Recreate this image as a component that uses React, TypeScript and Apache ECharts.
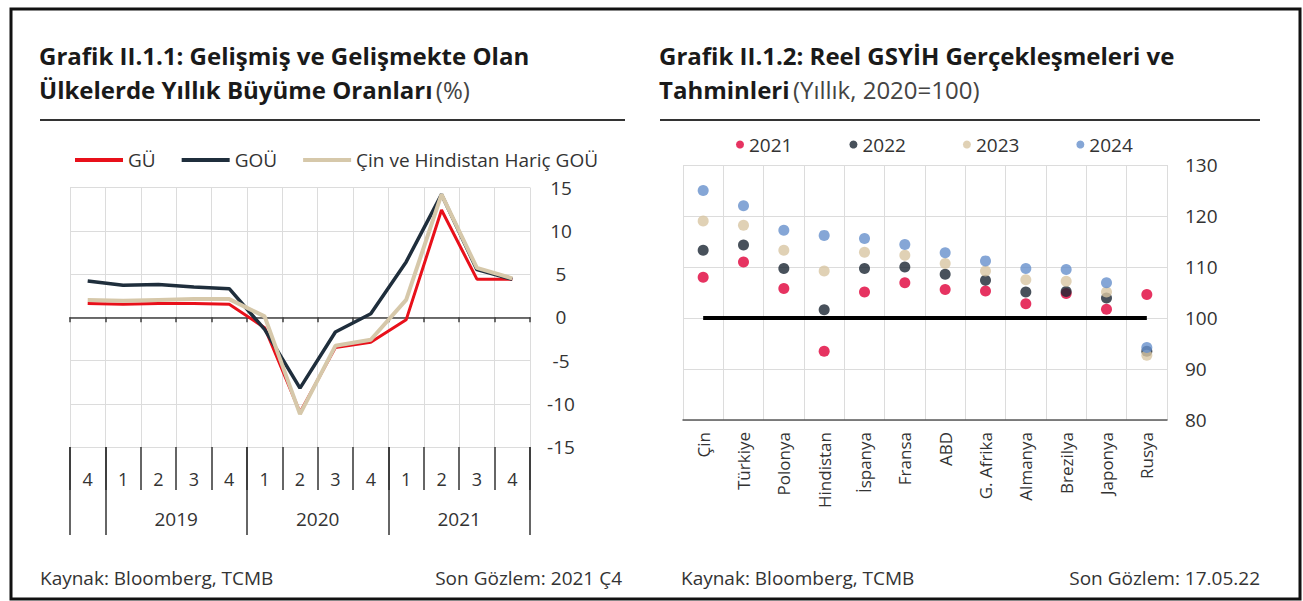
import React, { useEffect, useRef } from "react";
import * as echarts from "echarts";

// ---------- Left chart data (Grafik II.1.1) ----------
const quarterLabels = ["4", "1", "2", "3", "4", "1", "2", "3", "4", "1", "2", "3", "4"];
const quarterYears = ["2018", "2019", "2019", "2019", "2019", "2020", "2020", "2020", "2020", "2021", "2021", "2021", "2021"];
const yearLabels = ["2019", "2020", "2021"];
const guValues = [1.6, 1.5, 1.6, 1.6, 1.5, -1.2, -11.0, -3.5, -2.9, -0.3, 12.4, 4.4, 4.4];
const gouValues = [4.2, 3.7, 3.8, 3.5, 3.3, -1.4, -8.2, -1.7, 0.4, 6.4, 14.2, 5.5, 4.4];
const gouExValues = [2.0, 1.9, 2.0, 2.1, 2.1, 0.1, -11.2, -3.3, -2.6, 2.0, 14.2, 5.7, 4.5];
const leftSeriesNames = ["GÜ", "GOÜ", "Çin ve Hindistan Hariç GOÜ"];

// ---------- Right chart data (Grafik II.1.2) ----------
const countries = ["Çin", "Türkiye", "Polonya", "Hindistan", "İspanya", "Fransa", "ABD", "G. Afrika", "Almanya", "Brezilya", "Japonya", "Rusya"];
const gdp2021 = [108.0, 111.0, 105.8, 93.5, 105.1, 106.9, 105.6, 105.3, 102.8, 104.8, 101.7, 104.6];
const gdp2022 = [113.3, 114.3, 109.7, 101.6, 109.7, 110.0, 108.6, 107.4, 105.1, 105.2, 103.9, 93.5];
const gdp2023 = [119.0, 118.2, 113.3, 109.2, 112.9, 112.3, 110.7, 109.2, 107.5, 107.2, 105.1, 92.7];
const gdp2024 = [125.0, 122.0, 117.2, 116.2, 115.6, 114.4, 112.8, 111.2, 109.7, 109.5, 106.9, 94.2];
const yearSeriesNames = ["2021", "2022", "2023", "2024"];
const baseLevel = 100;

const FONT = "'Open Sans', 'Noto Sans', sans-serif";
const TXT = "#333333";

export default function App() {
  const ref = useRef<HTMLDivElement>(null);

  useEffect(() => {
    if (!ref.current) return;
    const chart = echarts.init(ref.current, undefined, { renderer: "svg" });

    // year boundaries and centres from the quarter/year arrays
    const boundaries: number[] = [0];
    for (let i = 1; i < quarterYears.length; i++) {
      if (quarterYears[i] !== quarterYears[i - 1]) boundaries.push(i);
    }
    boundaries.push(quarterYears.length);
    const yearCenters: Record<number, string> = {};
    yearLabels.forEach((y) => {
      const first = quarterYears.indexOf(y);
      const last = quarterYears.lastIndexOf(y);
      yearCenters[(first + last + 1) / 2] = y;
    });

    const gridColor = "#dcdcdc";
    const titleSize = 24;
    const smallFont = `19px ${FONT}`;

    const option: any = {
      animation: false,
      textStyle: { fontFamily: FONT },
      graphic: [
        {
          type: "rect",
          shape: { x: 11, y: 9, width: 1289, height: 590 },
          style: { fill: "none", stroke: "#111", lineWidth: 3 },
          silent: true,
        },
        {
          type: "text",
          x: 39,
          y: 55,
          style: {
            text: "Grafik II.1.1: Gelişmiş ve Gelişmekte Olan",
            font: `bold ${titleSize}px ${FONT}`,
            fill: "#1a1a1a",
            verticalAlign: "middle",
          },
        },
        {
          type: "text",
          x: 39,
          y: 89,
          style: {
            text: "{b|Ülkelerde Yıllık Büyüme Oranları} {n|(%)}",
            verticalAlign: "middle",
            rich: {
              b: { fontFamily: FONT, fontWeight: "bold", fontSize: titleSize, fill: "#1a1a1a" },
              n: { fontFamily: FONT, fontSize: titleSize, fill: "#444" },
            },
          },
        },
        {
          type: "text",
          x: 659,
          y: 55,
          style: {
            text: "Grafik II.1.2: Reel GSYİH Gerçekleşmeleri ve",
            font: `bold ${titleSize}px ${FONT}`,
            fill: "#1a1a1a",
            verticalAlign: "middle",
          },
        },
        {
          type: "text",
          x: 659,
          y: 89,
          style: {
            text: "{b|Tahminleri} {n|(Yıllık, 2020=100)}",
            verticalAlign: "middle",
            rich: {
              b: { fontFamily: FONT, fontWeight: "bold", fontSize: titleSize, fill: "#1a1a1a" },
              n: { fontFamily: FONT, fontSize: titleSize, fill: "#444" },
            },
          },
        },
        {
          type: "line",
          shape: { x1: 40, y1: 120, x2: 625, y2: 120 },
          style: { stroke: "#333", lineWidth: 2 },
        },
        {
          type: "line",
          shape: { x1: 660, y1: 120, x2: 1260, y2: 120 },
          style: { stroke: "#333", lineWidth: 2 },
        },
        {
          type: "text",
          x: 40,
          y: 578,
          style: { text: "Kaynak: Bloomberg, TCMB", font: smallFont, fill: TXT, verticalAlign: "middle" },
        },
        {
          type: "text",
          x: 622,
          y: 578,
          style: { text: "Son Gözlem: 2021 Ç4", font: smallFont, fill: TXT, verticalAlign: "middle", align: "right" },
        },
        {
          type: "text",
          x: 681,
          y: 578,
          style: { text: "Kaynak: Bloomberg, TCMB", font: smallFont, fill: TXT, verticalAlign: "middle" },
        },
        {
          type: "text",
          x: 1260,
          y: 578,
          style: { text: "Son Gözlem: 17.05.22", font: smallFont, fill: TXT, verticalAlign: "middle", align: "right" },
        },
      ],
      legend: [
        {
          data: leftSeriesNames,
          left: 70,
          top: 145,
          icon: "rect",
          itemWidth: 48,
          itemHeight: 4,
          itemGap: 26,
          textStyle: { fontSize: 19, color: TXT, fontFamily: FONT, lineHeight: 20 },
        },
        {
          data: yearSeriesNames,
          left: 731,
          top: 130,
          icon: "circle",
          itemWidth: 8,
          itemHeight: 8,
          itemGap: 57,
          textStyle: { fontSize: 19, color: TXT, fontFamily: FONT },
        },
      ],
      grid: [
        { left: 70, right: 773, top: 187.5, bottom: 154, containLabel: false },
        { left: 683, right: 136, top: 165, bottom: 181, containLabel: false },
      ],
      xAxis: [
        {
          type: "category",
          gridIndex: 0,
          data: quarterLabels,
          axisLine: { show: true, onZero: true, lineStyle: { color: "#404040", width: 1.5 } },
          axisTick: { show: true, length: 5, interval: 0, lineStyle: { color: "#404040", width: 1.5 } },
          axisLabel: { show: false },
          splitLine: { show: true, interval: 0, lineStyle: { color: gridColor, width: 1 } },
        },
        {
          type: "category",
          gridIndex: 0,
          position: "bottom",
          data: quarterLabels,
          axisLine: { show: false, onZero: false },
          axisTick: { show: true, length: 43, interval: 0, lineStyle: { color: "#333", width: 1.5 } },
          axisLabel: { show: true, interval: 0, margin: 23, fontSize: 18, color: TXT, fontFamily: FONT },
          splitLine: { show: false },
        },
        {
          type: "value",
          gridIndex: 0,
          position: "bottom",
          min: 0,
          max: quarterLabels.length,
          axisLine: { show: false, onZero: false },
          axisTick: { show: true, length: 88, customValues: boundaries, lineStyle: { color: "#333", width: 1.5 } },
          axisLabel: {
            show: true,
            customValues: Object.keys(yearCenters).map(Number),
            formatter: (v: number) => yearCenters[v] || "",
            margin: 62,
            fontSize: 19,
            color: TXT,
            fontFamily: FONT,
          },
          splitLine: { show: false },
        },
        {
          type: "category",
          gridIndex: 1,
          data: countries,
          axisLine: { show: true, onZero: false, lineStyle: { color: "#595959", width: 1.5 } },
          axisTick: { show: false },
          axisLabel: { interval: 0, rotate: 90, margin: 12, fontSize: 17, color: TXT, fontFamily: FONT },
          splitLine: { show: true, interval: 0, lineStyle: { color: gridColor, width: 1 } },
        },
      ],
      yAxis: [
        {
          type: "value",
          gridIndex: 0,
          position: "right",
          min: -15,
          max: 15,
          interval: 5,
          axisLine: { show: false },
          axisTick: { show: false },
          axisLabel: { fontSize: 19, color: TXT, margin: 31, align: "center", fontFamily: FONT },
          splitLine: { show: true, lineStyle: { color: gridColor, width: 1 } },
        },
        {
          type: "value",
          gridIndex: 1,
          position: "right",
          min: 80,
          max: 130,
          interval: 10,
          axisLine: { show: false },
          axisTick: { show: false },
          axisLabel: { fontSize: 19, color: TXT, margin: 18, fontFamily: FONT },
          splitLine: { show: true, lineStyle: { color: gridColor, width: 1 } },
        },
      ],
      series: [
        {
          name: leftSeriesNames[0],
          type: "line",
          xAxisIndex: 0,
          yAxisIndex: 0,
          data: guValues,
          showSymbol: false,
          symbol: "none",
          color: "#e8101a",
          lineStyle: { width: 3, color: "#e8101a" },
          z: 3,
        },
        {
          name: leftSeriesNames[1],
          type: "line",
          xAxisIndex: 0,
          yAxisIndex: 0,
          data: gouValues,
          showSymbol: false,
          symbol: "none",
          color: "#1f2e3c",
          lineStyle: { width: 3.5, color: "#1f2e3c" },
          z: 3,
        },
        {
          name: leftSeriesNames[2],
          type: "line",
          xAxisIndex: 0,
          yAxisIndex: 0,
          data: gouExValues,
          showSymbol: false,
          symbol: "none",
          color: "#d6c8aa",
          lineStyle: { width: 4, color: "#d6c8aa" },
          z: 3,
        },
        {
          name: "base",
          type: "line",
          xAxisIndex: 3,
          yAxisIndex: 1,
          data: countries.map(() => baseLevel),
          showSymbol: false,
          symbol: "none",
          color: "#000",
          lineStyle: { width: 4, color: "#000" },
          silent: true,
          z: 1,
        },
        {
          name: yearSeriesNames[0],
          type: "scatter",
          xAxisIndex: 3,
          yAxisIndex: 1,
          data: gdp2021,
          symbolSize: 11,
          color: "#e0003a",
          z: 3,
        },
        {
          name: yearSeriesNames[1],
          type: "scatter",
          xAxisIndex: 3,
          yAxisIndex: 1,
          data: gdp2022,
          symbolSize: 11,
          color: "#1a2632",
          z: 3,
        },
        {
          name: yearSeriesNames[2],
          type: "scatter",
          xAxisIndex: 3,
          yAxisIndex: 1,
          data: gdp2023,
          symbolSize: 11,
          color: "#d8c6a2",
          z: 3,
        },
        {
          name: yearSeriesNames[3],
          type: "scatter",
          xAxisIndex: 3,
          yAxisIndex: 1,
          data: gdp2024,
          symbolSize: 11,
          color: "#6690cc",
          z: 3,
        },
      ],
    };

    chart.setOption(option);
    return () => chart.dispose();
  }, []);

  return (
    <div
      ref={ref}
      style={{ position: "absolute", left: 0, top: 0, width: 1303, height: 601, background: "#fff" }}
    />
  );
}
